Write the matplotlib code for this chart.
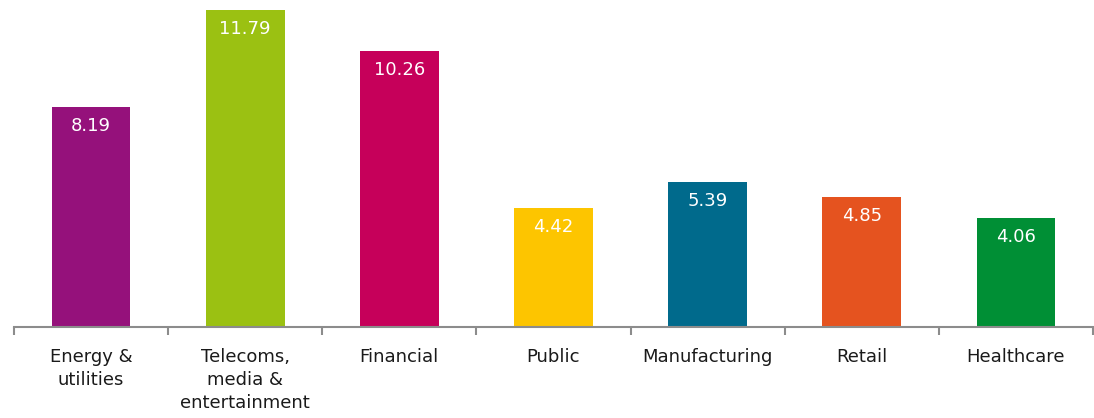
import matplotlib
matplotlib.use("Agg")
import matplotlib.pyplot as plt
import numpy as np

categories = ["Energy &\nutilities", "Telecoms,\nmedia &\nentertainment", "Financial",
              "Public", "Manufacturing", "Retail", "Healthcare"]
values = [8.19, 11.79, 10.26, 4.42, 5.39, 4.85, 4.06]
colors = ["#95117B", "#9BC112", "#C6005A", "#FDC500", "#006A8C", "#E5531F", "#008F35"]

plt.rcParams['font.family'] = ['DejaVu Sans']
fig = plt.figure(figsize=(10.94, 4.18), dpi=100)
ax = fig.add_axes([14/1094, (418-327)/418, (1093-14)/1094, 317/418])

x = np.arange(len(categories))
bars = ax.bar(x, values, width=0.51, color=colors, zorder=2)
for b, v in zip(bars, values):
    ax.annotate(f"{v:.2f}", xy=(b.get_x() + b.get_width()/2, v), xytext=(0, -19),
                textcoords="offset pixels",
                ha="center", va="center", color="white", fontsize=13)

ax.set_xlim(-0.5, len(categories) - 0.5)
ax.set_ylim(0, 11.79)
for s in ["top", "right", "left"]:
    ax.spines[s].set_visible(False)
ax.spines["bottom"].set_color("#8C8C8C")
ax.spines["bottom"].set_linewidth(1.5)
ax.set_yticks([])
ax.set_xticks(x)
ax.set_xticklabels(categories, fontsize=13, color="#1a1a1a", linespacing=1.38, va="top")
ax.tick_params(axis="x", which="major", length=0, pad=15)
ax.set_xticks(np.arange(len(categories) + 1) - 0.5, minor=True)
ax.tick_params(axis="x", which="minor", length=6, width=1.5, color="#8C8C8C")

fig.savefig("out.png", dpi=100)
